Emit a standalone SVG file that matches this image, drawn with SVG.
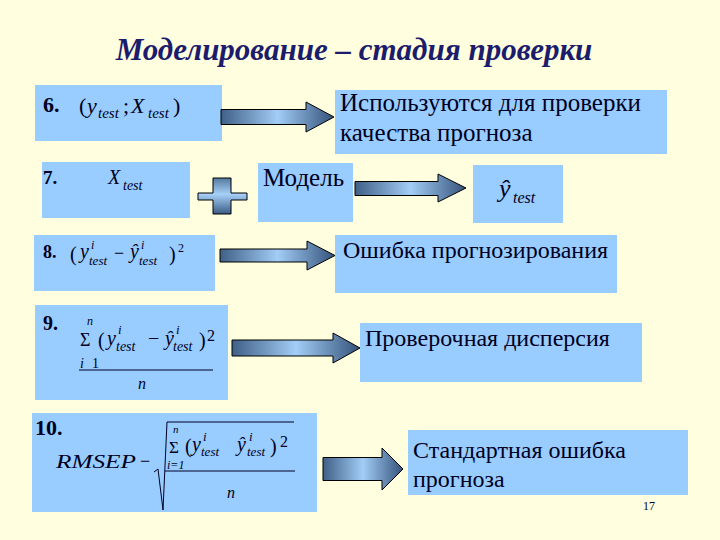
<svg xmlns="http://www.w3.org/2000/svg" width="720" height="540" viewBox="0 0 720 540">
<style>
.box{fill:#99CCFF}
.t{font-family:'Liberation Serif','DejaVu Serif',serif;font-size:24px;fill:#000022}
.m{font-family:'Liberation Serif','DejaVu Serif',serif;fill:#000022}
.i{font-style:italic}
.b{font-weight:bold}
.arrow{fill:url(#ag);stroke:#000;stroke-width:1}
</style>
<defs>
<linearGradient id="ag" x1="0" y1="0" x2="1" y2="0">
<stop offset="0" stop-color="#3f5f86"/>
<stop offset="0.5" stop-color="#a2cdf6"/>
<stop offset="1" stop-color="#34527a"/>
</linearGradient>
<linearGradient id="pg" x1="0" y1="0" x2="0" y2="1">
<stop offset="0" stop-color="#55799f"/>
<stop offset="0.45" stop-color="#a6d0f8"/>
<stop offset="1" stop-color="#3b5b84"/>
</linearGradient>
</defs>
<rect width="720" height="540" fill="#FFFFE0"/>
<text class="m b i" x="354" y="60" text-anchor="middle" font-size="31" style="fill:#1c1c6c">Моделирование – стадия проверки</text>

<g id="n6">
<rect class="box" x="35" y="85" width="187" height="56"/>
<text class="m b" x="43" y="112" font-size="22">6.</text>
<text class="m" x="79" y="113" font-size="22">(</text>
<text class="m i" x="87" y="113" font-size="22">y</text>
<text class="m i" x="98" y="118" font-size="15">test</text>
<text class="m" x="123" y="113" font-size="22">;</text>
<text class="m i" x="131" y="113" font-size="22">X</text>
<text class="m i" x="148" y="118" font-size="15">test</text>
<text class="m" x="173" y="113" font-size="22">)</text>
</g>

<g id="n6r">
<rect class="box" x="335" y="90" width="332" height="64"/>
<text class="t" x="340" y="111" style="font-size:25px">Используются для проверки</text>
<text class="t" x="340" y="141" style="font-size:25px">качества прогноза</text>
</g>

<g id="n7">
<rect class="box" x="42" y="162" width="148" height="56"/>
<text class="m b" x="43" y="184" font-size="19">7.</text>
<text class="m i" x="108" y="184" font-size="20">X</text>
<text class="m i" x="123" y="190" font-size="14">test</text>
</g>

<g id="plus">
<polygon points="213,178 231,178 231,193 247,193 247,200 231,200 231,214 213,214 213,200 198,200 198,193 213,193" fill="url(#pg)" stroke="#000" stroke-width="1"/>
</g>

<g id="model">
<rect class="box" x="258" y="163" width="95" height="59"/>
<text class="t" x="263" y="186" style="font-size:25px">Модель</text>
</g>

<g id="yhat">
<rect class="box" x="473" y="165" width="90" height="58"/>
<text class="m i" x="499" y="197" font-size="26">ŷ</text>
<text class="m i" x="513" y="203" font-size="16">test</text>
</g>

<g id="n8">
<rect class="box" x="34" y="235" width="181" height="56"/>
<text class="m b" x="43" y="258" font-size="18">8.</text>
<text class="m" x="70" y="261" font-size="20">(</text>
<text class="m i" x="80" y="258" font-size="20">y</text>
<text class="m i" x="91" y="249" font-size="12">i</text>
<text class="m i" x="89" y="265" font-size="13">test</text>
<text class="m" x="114" y="259" font-size="18">−</text>
<text class="m i" x="130" y="258" font-size="20">ŷ</text>
<text class="m i" x="141" y="249" font-size="12">i</text>
<text class="m i" x="139" y="265" font-size="13">test</text>
<text class="m" x="169" y="261" font-size="20">)</text>
<text class="m" x="178" y="252" font-size="12">2</text>
</g>

<g id="n8r">
<rect class="box" x="335" y="235" width="282" height="58"/>
<text class="t" x="343" y="258">Ошибка прогнозирования</text>
</g>

<g id="n9">
<rect class="box" x="35" y="305" width="193" height="95"/>
<text class="m b" x="43" y="330" font-size="20">9.</text>
<text class="m i" x="87" y="325" font-size="12">n</text>
<text class="m" x="80" y="346" font-size="18">Σ</text>
<text class="m" x="98" y="347" font-size="20">(</text>
<text class="m i" x="107" y="345" font-size="20">y</text>
<text class="m i" x="118" y="334" font-size="13">i</text>
<text class="m i" x="116" y="351" font-size="14">test</text>
<text class="m" x="148" y="345" font-size="20">−</text>
<text class="m i" x="165" y="345" font-size="20">ŷ</text>
<text class="m i" x="176" y="334" font-size="13">i</text>
<text class="m i" x="173" y="351" font-size="14">test</text>
<text class="m" x="199" y="347" font-size="20">)</text>
<text class="m" x="207" y="341" font-size="16">2</text>
<text class="m i" x="80" y="368" font-size="14">i</text>
<text class="m" x="92" y="368" font-size="14">1</text>
<line x1="79" y1="370" x2="213" y2="370" stroke="#000022" stroke-width="1"/>
<text class="m i" x="138" y="389" font-size="16">n</text>
</g>

<g id="n9r">
<rect class="box" x="360" y="323" width="282" height="59"/>
<text class="t" x="365" y="346">Проверочная дисперсия</text>
</g>

<g id="n10">
<rect class="box" x="32" y="413" width="285" height="99"/>
<text class="m b" x="35" y="435" font-size="22">10.</text>
<text class="m i" x="56" y="468" font-size="19" textLength="80" lengthAdjust="spacingAndGlyphs">RMSEP</text>
<text class="m" x="140" y="467" font-size="18">−</text>
<path d="M154,472 L158,469 L163,510 L167,422 L294,422" fill="none" stroke="#000022" stroke-width="1"/>
<text class="m i" x="173" y="433" font-size="11">n</text>
<text class="m" x="169" y="453" font-size="17">Σ</text>
<text class="m" x="185" y="453" font-size="20">(</text>
<text class="m i" x="192" y="451" font-size="20">y</text>
<text class="m i" x="203" y="441" font-size="13">i</text>
<text class="m i" x="201" y="456" font-size="13">test</text>
<text class="m i" x="237" y="451" font-size="20">ŷ</text>
<text class="m i" x="249" y="441" font-size="13">i</text>
<text class="m i" x="247" y="456" font-size="13">test</text>
<text class="m" x="270" y="453" font-size="20">)</text>
<text class="m" x="280" y="447" font-size="16">2</text>
<text class="m i" x="167" y="469" font-size="12">i=1</text>
<line x1="165" y1="471" x2="295" y2="471" stroke="#000022" stroke-width="1"/>
<text class="m i" x="227" y="498" font-size="16">n</text>
</g>

<g id="n10r">
<rect class="box" x="408" y="430" width="280" height="65"/>
<text class="t" x="413" y="458">Стандартная ошибка</text>
<text class="t" x="413" y="487">прогноза</text>
</g>

<g id="connectors">
<polygon class="arrow" points="221,109.5 306,109.5 306,102 334,117 306,132 306,124.5 221,124.5"/>
<polygon class="arrow" points="355,181.5 438,181.5 438,174 466,188 438,202 438,195.5 355,195.5"/>
<polygon class="arrow" points="220,249 307,249 307,241 335,255.5 307,270 307,262 220,262"/>
<polygon class="arrow" points="232,340 333,340 333,333 360,348 333,363 333,356 232,356"/>
<polygon class="arrow" points="323,457.5 382,457.5 382,448 403,469 382,490 382,480.5 323,480.5"/>
</g>

<text class="m" x="643" y="510" font-size="12">17</text>
</svg>
